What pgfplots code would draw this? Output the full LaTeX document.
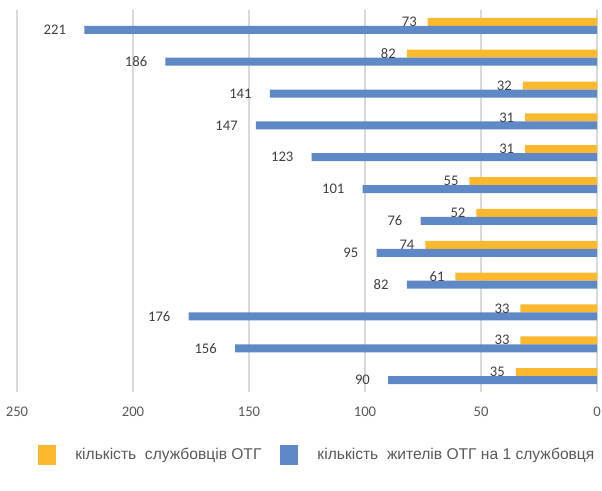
\documentclass[border=0pt]{standalone}
\usepackage{pgfplots}
\pgfplotsset{compat=1.18}
\usepackage{fontspec}
\setmainfont{Carlito}
\newfontfamily\lgdfont{Liberation Sans}
\definecolor{orng}{HTML}{FDB92D}
\definecolor{blu}{HTML}{5F88C7}
\definecolor{txt}{HTML}{404040}
\definecolor{lgd}{HTML}{595959}
\definecolor{grd}{HTML}{D9D9D9}
\begin{document}
\begin{tikzpicture}
\begin{axis}[name=ax, scale only axis, width=435pt, height=286.5pt,
  xbar, bar width=6pt, x dir=reverse, y dir=reverse,
  xmin=0, xmax=250, ymin=-0.5, ymax=11.5,
  axis line style={draw=none}, ytick=\empty, xtick={0,50,...,250},
  xmajorgrids, grid style={grd, line width=1.1pt},
  major tick length=0pt,
  /pgf/number format/assume math mode=true,
  xticklabel style={font=\fontsize{11}{13}\selectfont, text=lgd, yshift=-8pt},
  nodes near coords,
  every node near coord/.append style={anchor=east, font=\fontsize{11}{13}\selectfont, text=txt, inner sep=0pt},
  legend style={at={(0.029,-0.165)}, anchor=west, draw=none, fill=none,
    legend columns=2, font=\lgdfont\fontsize{11.7}{13}\selectfont, text=lgd,
    /tikz/every even column/.append style={column sep=12pt},
    /tikz/every odd column/.append style={column sep=12.5pt}},
  legend image code/.code={\fill[#1, draw=none] (0pt,-7.5pt) rectangle (13.5pt,7.5pt);},
]
\addplot[fill=orng, draw=none, bar shift=3pt, every node near coord/.append style={xshift=-8pt}]
  coordinates {(73,0) (82,1) (32,2) (31,3) (31,4) (55,5) (52,6) (74,7) (61,8) (33,9) (33,10) (35,11)};
\addplot[fill=blu, draw=none, bar shift=-3pt, every node near coord/.append style={xshift=-13.5pt}]
  coordinates {(221,0) (186,1) (141,2) (147,3) (123,4) (101,5) (76,6) (95,7) (82,8) (176,9) (156,10) (90,11)};
\legend{кількість\ \ службовців ОТГ, кількість\ \ жителів ОТГ на 1 службовця}
\end{axis}
\pgfresetboundingbox
\path ([xshift=-12.75pt, yshift=-74.25pt]ax.south west) rectangle ([xshift=3.75pt, yshift=7.5pt]ax.north east);
\end{tikzpicture}
\end{document}
